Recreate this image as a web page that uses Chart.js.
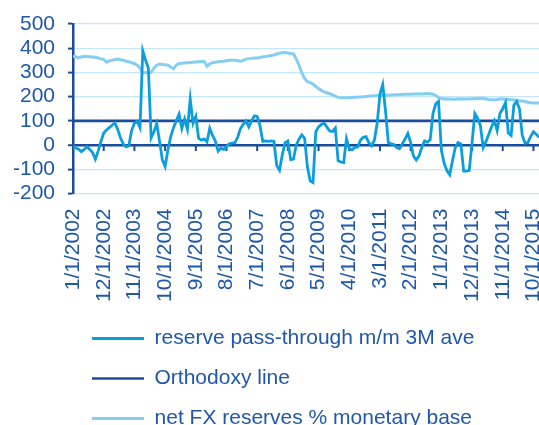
<!DOCTYPE html>
<html><head><meta charset="utf-8">
<script src="https://cdn.jsdelivr.net/npm/chart.js@4"></script>
<style>html,body{margin:0;padding:0;overflow:hidden;background:#fff;} #wrap{width:539px;height:439px;position:relative;}</style>
</head><body><div id="wrap"><canvas id="c" width="539" height="439"></canvas></div>
<script>
// monthly categories 1/1/2002 .. 12/1/2015
const startYear = 2002;
const monthCount = 168;
const categories = [];
for (let k = 0; k < monthCount; k++) {
  categories.push((k % 12 + 1) + '/1/' + (startYear + Math.floor(k / 12)));
}
const labelEvery = 11;
const yTicks = [-200, -100, 0, 100, 200, 300, 400, 500];

const passThrough = [
  -8, -12, -17, -27, -18, -7, -18, -31, -58, -25,
  15, 50, 62, 72, 82, 92, 65, 30, 5, -7,
  -3, 60, 90, 98, 72, 389, 350, 318, 30, 55,
  89, 17, -60, -88, -20, 35, 72, 100, 128, 68,
  108, 65, 190, 90, 118, 28, 20, 25, 13, 70,
  40, 17, -25, -12, -18, -5, 5, 8, 10, 32,
  68, 86, 100, 75, 100, 121, 118, 80, 15, 17,
  15, 17, 15, -85, -104, -40, 10, 17, -60, -58,
  0, 25, 42, 28, -90, -148, -155, 55, 75, 85,
  90, 74, 58, 56, 70, -65, -70, -72, 26, -15,
  -20, -10, -8, 20, 32, 35, 10, -3, 20, 90,
  210, 250, 140, 10, 5, 2, -10, -15, 5, 25,
  48, 10, -45, -62, -45, -10, 17, 12, 22, 130,
  170, 180, -20, -75, -105, -122, -65, -10, 10, 5,
  -108, -108, -105, 10, 130, 110, 80, -10, 15, 45,
  75, 100, 60, 130, 150, 176, 50, 40, 165, 180,
  150, 40, 8, 10, 35, 55, 45, 32
];

const netFx = [
  367, 365, 360, 364, 367, 366, 365, 364, 363, 360,
  356, 354, 342, 348, 350, 353, 355, 352, 350, 346,
  344, 340, 337, 330, 318, 298, 300, 298, 300, 318,
  330, 335, 333, 332, 330, 322, 315, 330, 337, 338,
  339, 340, 341, 342, 343, 344, 345, 346, 326, 335,
  340, 342, 344, 345, 346, 348, 350, 350, 350, 348,
  346, 350, 355, 357, 358, 360, 360, 362, 365, 366,
  368, 370, 372, 376, 379, 381, 382, 380, 378, 377,
  355, 330, 298, 275, 262, 258, 252, 242, 233, 226,
  220, 216, 212, 207, 202, 197, 195, 195, 195, 195,
  196, 197, 198, 199, 200, 201, 203, 203, 204, 205,
  205, 206, 207, 206, 207, 208, 208, 209, 209, 210,
  210, 210, 211, 211, 212, 211, 212, 213, 212, 210,
  205, 196, 192, 190, 190, 190, 189, 189, 190, 190,
  190, 190, 190, 191, 191, 192, 193, 192, 190, 188,
  187, 187, 188, 190, 190, 189, 188, 187, 186, 185,
  183, 182, 180, 177, 175, 174, 174, 174
];

const orthodoxyLevel = 100;
const orthodoxy = categories.map(() => orthodoxyLevel);

const seriesNames = ['reserve pass-through m/m 3M ave', 'Orthodoxy line', 'net FX reserves % monetary base'];

const TEXT = '#1F58AA';
const DARK = '#1A4C9C';
const BRIGHT = '#0A9EDF';
const LIGHT = '#84CFF1';
const GRID = '#C3E7F8';
const FONT = {family: '"Liberation Sans", Arial, sans-serif', size: 21};

const zeroTicks = {
  id: 'zeroTicks',
  beforeDatasetsDraw(chart) {
    const xs = chart.scales.x, ys = chart.scales.y, ctx = chart.ctx;
    const y0 = ys.getPixelForValue(0);
    ctx.save();
    ctx.strokeStyle = DARK;
    ctx.lineWidth = 2;
    for (let k = labelEvery; k < categories.length; k += labelEvery) {
      const x = xs.getPixelForValue(k);
      ctx.beginPath();
      ctx.moveTo(x, y0);
      ctx.lineTo(x, y0 + 6);
      ctx.stroke();
    }
    ctx.restore();
  }
};

new Chart(document.getElementById('c'), {
  type: 'line',
  data: {
    labels: categories,
    datasets: [
      {label: seriesNames[0], data: passThrough, borderColor: BRIGHT, backgroundColor: BRIGHT, borderWidth: 2.8, pointRadius: 0, tension: 0, fill: false},
      {label: seriesNames[1], data: orthodoxy, borderColor: DARK, backgroundColor: DARK, borderWidth: 2.6, pointRadius: 0, tension: 0, fill: false},
      {label: seriesNames[2], data: netFx, borderColor: LIGHT, backgroundColor: LIGHT, borderWidth: 3, pointRadius: 0, tension: 0, fill: false}
    ]
  },
  plugins: [zeroTicks],
  options: {
    responsive: false,
    animation: false,
    devicePixelRatio: 1,
    layout: {padding: {top: 24, left: 0, right: 0, bottom: 0}},
    plugins: {
      tooltip: {enabled: false},
      legend: {
        position: 'bottom',
        align: 'start',
        fullSize: false,
        labels: {
          usePointStyle: true,
          pointStyle: 'line',
          pointStyleWidth: 52,
          padding: 19,
          color: TEXT,
          font: FONT
        }
      }
    },
    scales: {
      x: {
        type: 'category',
        grid: {display: false},
        border: {display: false},
        ticks: {
          autoSkip: false,
          maxRotation: 90,
          minRotation: 90,
          padding: 7,
          color: TEXT,
          font: FONT,
          callback: function(value, index) {
            return index % labelEvery === 0 ? this.getLabelForValue(value) : null;
          }
        },
        afterFit(scale) { scale.height = 115.5; scale.paddingLeft = 0; scale.paddingRight = 0; }
      },
      y: {
        min: yTicks[0],
        max: yTicks[yTicks.length - 1],
        afterBuildTicks(scale) { scale.ticks = yTicks.map(v => ({value: v})); },
        border: {display: true, color: DARK, width: 2.5},
        grid: {
          color: (c) => (c.tick && c.tick.value === 0) ? DARK : GRID,
          lineWidth: (c) => (c.tick && c.tick.value === 0) ? 2.5 : 1.2,
          tickColor: DARK,
          tickLength: 5,
          tickWidth: 2
        },
        ticks: {color: TEXT, font: FONT, padding: 13, autoSkip: false, stepSize: 100},
        afterFit(scale) { scale.paddingTop = 0; scale.paddingBottom = 0; }
      }
    }
  }
});
</script>
</body></html>
